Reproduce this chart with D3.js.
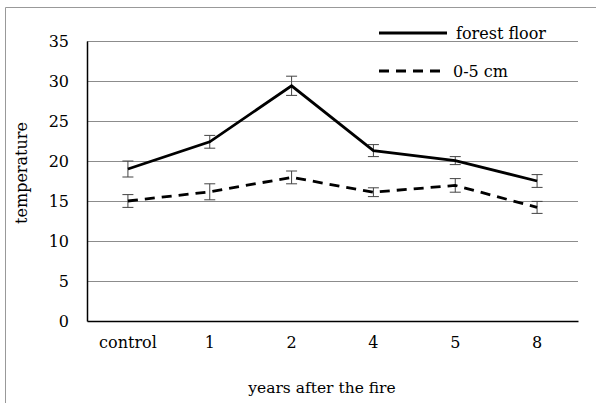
<!DOCTYPE html>
<html>
<head>
<meta charset="utf-8">
<script src="https://cdn.jsdelivr.net/npm/d3@7"></script>
<style>
  body { margin: 0; background: #fff; }
  svg text { fill: #000; }
</style>
</head>
<body>
<div id="chart"></div>
<script>
// Data
const categories = ["control", "1", "2", "4", "5", "8"];
const forestFloor = [19.0, 22.4, 29.4, 21.3, 20.05, 17.5];
const forestFloorErr = [1.0, 0.8, 1.2, 0.75, 0.5, 0.8];
const soil05 = [15.0, 16.15, 17.95, 16.1, 16.95, 14.2];
const soil05Err = [0.8, 1.0, 0.8, 0.55, 0.85, 0.75];
const yTicks = [0, 5, 10, 15, 20, 25, 30, 35];

const series = [
  { name: "forest floor", values: forestFloor, err: forestFloorErr, dash: null },
  { name: "0-5 cm", values: soil05, err: soil05Err, dash: "10,7" }
];

const width = 596, height = 403;
const margin = { top: 41, right: 18, bottom: 82, left: 87 };
const serif = "'DejaVu Serif', serif";
const fs = 16;

const svg = d3.select("#chart")
    .append("svg")
    .attr("width", width)
    .attr("height", height)
    .attr("font-family", serif)
    .attr("font-size", fs);

// Outer frame (only top and left edges show)
svg.append("path")
    .attr("d", `M5.5,${height} V7.5 H${width}`)
    .attr("fill", "none")
    .attr("stroke", "#999")
    .attr("stroke-width", 1);

const x = d3.scaleBand()
    .domain(categories)
    .range([margin.left, width - margin.right]);

const y = d3.scaleLinear()
    .domain([0, 35])
    .range([height - margin.bottom, margin.top]);

// Gridlines
svg.append("g")
    .selectAll("line")
    .data(yTicks.filter(d => d > 0))
    .join("line")
    .attr("x1", margin.left)
    .attr("x2", width - margin.right)
    .attr("y1", d => Math.round(y(d)) + 0.5)
    .attr("y2", d => Math.round(y(d)) + 0.5)
    .attr("stroke", "#8c8c8c")
    .attr("stroke-width", 1);

// Y axis
const yAxis = svg.append("g")
    .attr("transform", `translate(${margin.left},0)`)
    .call(d3.axisLeft(y).tickValues(yTicks).tickSize(0).tickPadding(18))
    .attr("font-family", serif)
    .attr("font-size", fs);
yAxis.select(".domain").attr("stroke", "#000").attr("stroke-width", 1.5);

// X axis
const xAxis = svg.append("g")
    .attr("transform", `translate(0,${height - margin.bottom})`)
    .call(d3.axisBottom(x).tickSize(0).tickPadding(16))
    .attr("font-family", serif)
    .attr("font-size", fs);
xAxis.select(".domain").attr("stroke", "#000").attr("stroke-width", 1.5);

// Axis titles
svg.append("text")
    .attr("x", 322)
    .attr("y", 393)
    .attr("text-anchor", "middle")
    .attr("font-size", 15.5)
    .text("years after the fire");

svg.append("text")
    .attr("transform", "translate(27,173) rotate(-90)")
    .attr("text-anchor", "middle")
    .text("temperature");

const cx = d => x(d) + x.bandwidth() / 2;
const line = d3.line()
    .x((d, i) => cx(categories[i]))
    .y(d => y(d));

series.forEach(s => {
    // Error bars
    const eb = svg.append("g")
        .attr("stroke", "#444")
        .attr("stroke-width", 1);
    s.values.forEach((v, i) => {
        const px = cx(categories[i]);
        const top = y(v + s.err[i]), bot = y(v - s.err[i]);
        eb.append("line").attr("x1", px).attr("x2", px).attr("y1", top).attr("y2", bot);
        eb.append("line").attr("x1", px - 5.5).attr("x2", px + 5.5).attr("y1", top).attr("y2", top);
        eb.append("line").attr("x1", px - 5.5).attr("x2", px + 5.5).attr("y1", bot).attr("y2", bot);
    });

    svg.append("path")
        .datum(s.values)
        .attr("d", line)
        .attr("fill", "none")
        .attr("stroke", "#000")
        .attr("stroke-width", 2.8)
        .attr("stroke-dasharray", s.dash);
});

// Legend
const legend = svg.append("g");
series.forEach((s, i) => {
    const ly = 33 + i * 38;
    legend.append("line")
        .attr("x1", 379)
        .attr("x2", 447)
        .attr("y1", ly)
        .attr("y2", ly)
        .attr("stroke", "#000")
        .attr("stroke-width", 2.8)
        .attr("stroke-dasharray", s.dash);
    legend.append("text")
        .attr("x", i === 0 ? 456 : 453)
        .attr("y", ly + 6)
        .text(s.name);
});
</script>
</body>
</html>
